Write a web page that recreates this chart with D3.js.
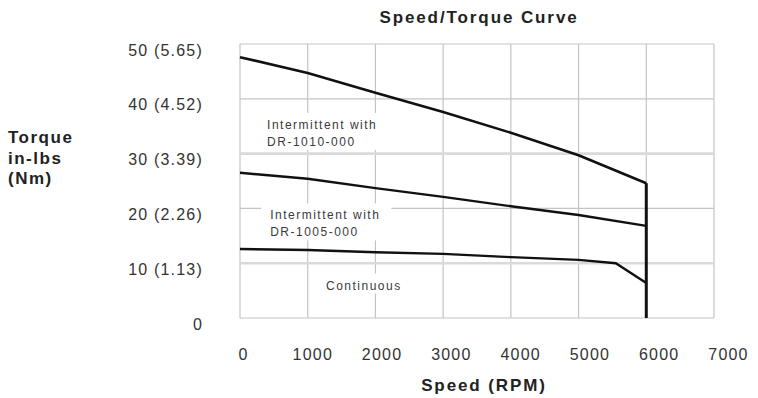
<!DOCTYPE html>
<html>
<head>
<meta charset="utf-8">
<script src="https://cdn.jsdelivr.net/npm/d3@7"></script>
<style>
  html, body { margin: 0; padding: 0; background: #fff; }
  svg { display: block; font-family: "Liberation Sans", Arial, Helvetica, sans-serif; }
</style>
</head>
<body>
<svg id="chart" width="758" height="398"></svg>
<script>
// Speed/torque envelope of the motor (speed in RPM, torque in in-lbs)
const speedTicks = [0, 1000, 2000, 3000, 4000, 5000, 6000, 7000];
const torqueTicks = [0, 10, 20, 30, 40, 50];
const torqueTickLabels = ["0", "10 (1.13)", "20 (2.26)", "30 (3.39)", "40 (4.52)", "50 (5.65)"];

const dr1010Speed  = [0, 1000, 2000, 3000, 4000, 5000, 6000];
const dr1010Torque = [47.6, 44.7, 41.1, 37.6, 33.8, 29.7, 24.6];

const dr1005Speed  = [0, 1000, 2000, 3000, 4000, 5000, 6000];
const dr1005Torque = [26.5, 25.4, 23.7, 22.1, 20.4, 18.8, 16.8];

const contSpeed  = [0, 1000, 2000, 3000, 4000, 5000, 5550, 6000];
const contTorque = [12.6, 12.4, 12.0, 11.7, 11.1, 10.6, 10.0, 6.4];

// Speed limit: vertical drop from the top curve to zero
const limitSpeed  = [6000, 6000];
const limitTorque = [24.6, 0];

const regionLabels = [
  { speed: 400, torque: 34.5, lines: ["Intermittent with", "DR-1010-000"] },
  { speed: 445, torque: 18.0, lines: ["Intermittent with", "DR-1005-000"] },
  { speed: 1270, torque: 5.2, lines: ["Continuous"] }
];

const svg = d3.select("#chart");

const x = d3.scaleLinear().domain([0, 7000]).range([240, 714]);
const y = d3.scaleLinear().domain([0, 50]).range([318, 44]);
// tick labels sit slightly right of their grid lines
const xLabel = d3.scaleLinear().domain([0, 7000]).range([243, 728]);

// grid
const grid = svg.append("g");
grid.selectAll("line.v").data(speedTicks).join("line")
  .attr("x1", d => x(d)).attr("x2", d => x(d))
  .attr("y1", y(0)).attr("y2", y(50))
  .attr("stroke", "#c4c4c4").attr("stroke-width", 1.2);
grid.selectAll("line.h").data(torqueTicks).join("line")
  .attr("x1", x(0)).attr("x2", x(7000))
  .attr("y1", d => y(d)).attr("y2", d => y(d))
  .attr("stroke", d => (d === 10 || d === 30) ? "#dadada" : "#c4c4c4")
  .attr("stroke-width", d => (d === 10 || d === 30) ? 2.6 : 1.2);

// region labels with knocked-out backgrounds
regionLabels.forEach(lab => {
  const g = svg.append("g");
  const t = g.append("text")
    .attr("x", x(lab.speed)).attr("y", y(lab.torque))
    .attr("font-size", 12).attr("letter-spacing", 1.5).attr("fill", "#3a3a3a");
  lab.lines.forEach((s, i) => {
    t.append("tspan").attr("x", x(lab.speed)).attr("dy", i === 0 ? 0 : 17).text(s);
  });
  const b = t.node().getBBox();
  g.insert("rect", "text")
    .attr("x", b.x - 9).attr("y", b.y - 5)
    .attr("width", b.width + 20).attr("height", b.height + 6)
    .attr("fill", "#fff");
});

// curves
const line = d3.line().x(d => x(d[0])).y(d => y(d[1]));
const curves = [
  [dr1010Speed, dr1010Torque, 2.6],
  [dr1005Speed, dr1005Torque, 2.4],
  [contSpeed, contTorque, 2.4],
  [limitSpeed, limitTorque, 3]
];
curves.forEach(([sp, tq, w]) => {
  svg.append("path")
    .datum(sp.map((s, i) => [s, tq[i]]))
    .attr("d", line)
    .attr("fill", "none").attr("stroke", "#111")
    .attr("stroke-width", w).attr("stroke-linejoin", "miter");
});

// x tick labels
const xAxis = svg.append("g")
  .attr("transform", "translate(0,346)")
  .call(d3.axisBottom(xLabel).tickValues(speedTicks).tickSize(0).tickFormat(d3.format("d")));
xAxis.select(".domain").remove();
xAxis.selectAll("text")
  .attr("font-family", null).attr("font-size", 16).attr("letter-spacing", 1.2)
  .attr("fill", "#333").attr("dy", "0.71em");

// y tick labels
const yAxis = svg.append("g")
  .attr("transform", "translate(203,6)")
  .call(d3.axisLeft(y).tickValues(torqueTicks).tickSize(0)
    .tickFormat((d, i) => torqueTickLabels[i]));
yAxis.select(".domain").remove();
yAxis.selectAll("text")
  .attr("font-family", null).attr("font-size", 16).attr("letter-spacing", 1.2)
  .attr("fill", "#333").attr("x", 0);

// titles
svg.append("text")
  .attr("x", 479).attr("y", 23).attr("text-anchor", "middle")
  .attr("font-size", 17).attr("font-weight", "bold").attr("letter-spacing", 1.9)
  .attr("fill", "#222").text("Speed/Torque Curve");

svg.append("text")
  .attr("x", 484).attr("y", 391).attr("text-anchor", "middle")
  .attr("font-size", 17).attr("font-weight", "bold").attr("letter-spacing", 1.9)
  .attr("fill", "#222").text("Speed (RPM)");

const yTitle = svg.append("text")
  .attr("font-size", 17).attr("font-weight", "bold").attr("letter-spacing", 1.5)
  .attr("fill", "#222");
["Torque", "in-lbs", "(Nm)"].forEach((s, i) => {
  yTitle.append("tspan").attr("x", 8).attr("y", 143 + i * 20.5).text(s);
});
</script>
</body>
</html>
